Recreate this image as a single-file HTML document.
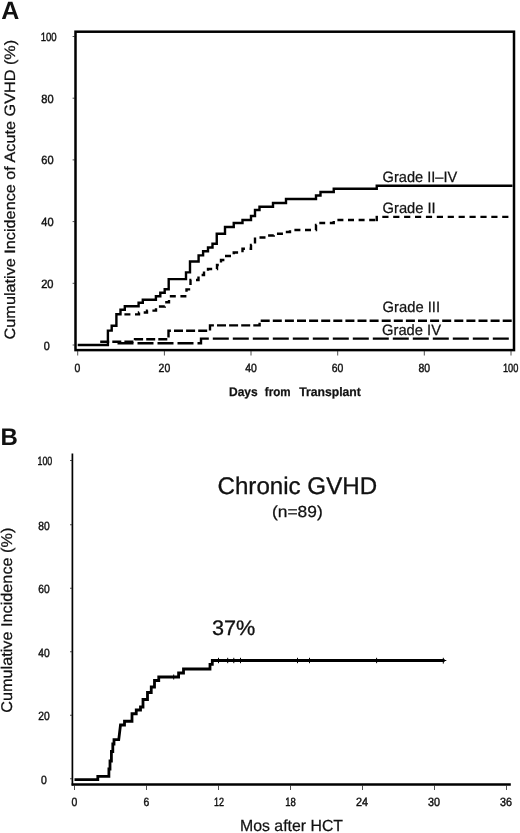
<!DOCTYPE html>
<html><head><meta charset="utf-8"><title>GVHD cumulative incidence</title>
<style>
html,body{margin:0;padding:0;background:#fff;}
svg{display:block;filter:grayscale(1);}
text{font-family:"Liberation Sans",sans-serif;fill:#111;text-rendering:geometricPrecision;}
</style></head>
<body>
<svg width="520" height="833" viewBox="0 0 520 833">
<rect x="0" y="0" width="520" height="833" fill="#fff"/>
<g opacity="0.999">

<!-- ================= PANEL A ================= -->
<text x="1.2" y="19.3" font-size="25" font-weight="bold">A</text>
<!-- plot box -->
<rect x="75.5" y="31.7" width="438.5" height="318.4" fill="none" stroke="#000" stroke-width="2.5"/>
<!-- y ticks -->
<g stroke="#222" stroke-width="0.8">
<line x1="72.6" x2="75" y1="345" y2="345"/>
<line x1="72.6" x2="75" y1="283.3" y2="283.3"/>
<line x1="72.6" x2="75" y1="221.6" y2="221.6"/>
<line x1="72.6" x2="75" y1="159.9" y2="159.9"/>
<line x1="72.6" x2="75" y1="98.2" y2="98.2"/>
<line x1="72.6" x2="75" y1="36.5" y2="36.5"/>
<!-- x ticks -->
<line x1="77.7" x2="77.7" y1="351" y2="355.5"/>
<line x1="164.4" x2="164.4" y1="351" y2="355.5"/>
<line x1="251" x2="251" y1="351" y2="355.5"/>
<line x1="337.7" x2="337.7" y1="351" y2="355.5"/>
<line x1="424.3" x2="424.3" y1="351" y2="355.5"/>
<line x1="511" x2="511" y1="351" y2="355.5"/>
</g>
<!-- y tick labels -->
<g font-size="12" text-anchor="middle" stroke="#111" stroke-width="0.45">
<text x="48.7" y="40.8" textLength="16" lengthAdjust="spacingAndGlyphs">100</text>
<text x="47.5" y="102.5" textLength="12.3" lengthAdjust="spacingAndGlyphs">80</text>
<text x="47.5" y="164.3" textLength="12.3" lengthAdjust="spacingAndGlyphs">60</text>
<text x="47.5" y="226" textLength="12.3" lengthAdjust="spacingAndGlyphs">40</text>
<text x="47.3" y="287.7" textLength="12.3" lengthAdjust="spacingAndGlyphs">20</text>
<text x="46.8" y="349.6" textLength="6" lengthAdjust="spacingAndGlyphs">0</text>
<!-- x tick labels -->
<text x="77.5" y="371.5" textLength="5.8" lengthAdjust="spacingAndGlyphs">0</text>
<text x="164.4" y="371.5" textLength="11.6" lengthAdjust="spacingAndGlyphs">20</text>
<text x="251" y="371.5" textLength="11.6" lengthAdjust="spacingAndGlyphs">40</text>
<text x="337.5" y="371.5" textLength="11.6" lengthAdjust="spacingAndGlyphs">60</text>
<text x="424.3" y="371.5" textLength="11.6" lengthAdjust="spacingAndGlyphs">80</text>
<text x="510.6" y="371.5" textLength="15.4" lengthAdjust="spacingAndGlyphs">100</text>
</g>
<!-- axis titles -->
<text transform="translate(15.3,339.4) rotate(-90)" font-size="15" textLength="299.6" stroke="#111" stroke-width="0.25" lengthAdjust="spacingAndGlyphs">Cumulative Incidence of Acute GVHD (%)</text>
<g font-size="12.4" font-weight="bold" stroke="#111" stroke-width="0.25">
<text x="229" y="396.2" textLength="28.7" lengthAdjust="spacingAndGlyphs">Days</text>
<text x="264.8" y="396.2" textLength="25.8" lengthAdjust="spacingAndGlyphs">from</text>
<text x="299.2" y="396.2" textLength="61.6" lengthAdjust="spacingAndGlyphs">Transplant</text>
</g>

<!-- curves A -->
<g fill="none" stroke="#000" stroke-width="2.4" stroke-linejoin="miter">
<!-- Grade IV long dash -->
<path d="M117.5 343.3 H201 V338.6 H512" stroke-dasharray="16 4"/>
<!-- Grade III medium dash -->
<path d="M100.2 341.7 H135 V339.3 H168.5 V330.8 H210 V325.4 H259.6 V320.7 H512" stroke-dasharray="9 3.1"/>
<!-- Grade II dotted -->
<path d="M124.4 314.4 H139 V312.5 H147 V310.6 H156 V306.5 H164.8 V302.2 H169 V296.2 H186.5 V289.4 H190.5 V280 H198.5 V275 H204 V271 H208 V269 H217 V265 H221 V260 H225 V256 H233.75 V252.5 H242.5 V248.75 H251 V245 H255 V237.5 H268 V235.5 H273.75 V233.75 H285 V232 H290 V230 H316 V225 H320.5 V223 H333.75 V220 H376" stroke-dasharray="6 4.6"/>
<path d="M376.75 221.2 V215.8"/>
<path d="M382.3 216.9 H508.6" stroke-dasharray="6.2 4.7"/>
<!-- Grade II-IV solid -->
<path d="M77.7 345 H107.9 V330.6 H111.7 V325.8 H116.4 V314.2 H120.5 V309.8 H124.8 V306.2 H138.6 V302.8 H142.8 V299.8 H155.9 V296.2 H160.3 V292.7 H164.7 V289.2 H168.7 V279.1 H186 V272.4 H190 V261.5 H198.6 V255.4 H203.1 V251.3 H208 V247.5 H212.5 V243.75 H216.75 V233.75 H225 V227 H233.75 V223 H242.5 V220 H251 V216 H255 V210 H259.5 V206.75 H273 V203 H286 V199 H316 V195.5 H320.5 V192 H333.75 V188.75 H376.75 V185.75 H512.5"/>
</g>
<!-- curve labels -->
<g font-size="15" stroke="#111" stroke-width="0.25">
<text x="382.6" y="182.2" textLength="74.7" lengthAdjust="spacingAndGlyphs">Grade II–IV</text>
<text x="382.6" y="212.8" textLength="53.1" lengthAdjust="spacingAndGlyphs">Grade II</text>
<text x="382.6" y="311.6" textLength="57.4" lengthAdjust="spacingAndGlyphs">Grade III</text>
<text x="382" y="334.6" textLength="59" lengthAdjust="spacingAndGlyphs">Grade IV</text>
</g>

<!-- ================= PANEL B ================= -->
<text x="0.5" y="445.2" font-size="24" font-weight="bold">B</text>
<!-- axes -->
<line x1="72.4" x2="72.4" y1="453.5" y2="785.6" stroke="#000" stroke-width="1.7"/>
<line x1="71.6" x2="510.8" y1="784.5" y2="784.5" stroke="#000" stroke-width="2.4"/>
<g stroke="#222" stroke-width="0.8">
<line x1="70" x2="72.2" y1="778.75" y2="778.75"/>
<line x1="70" x2="72.2" y1="715.25" y2="715.25"/>
<line x1="70" x2="72.2" y1="651.75" y2="651.75"/>
<line x1="70" x2="72.2" y1="588.25" y2="588.25"/>
<line x1="70" x2="72.2" y1="524.75" y2="524.75"/>
<line x1="70" x2="72.2" y1="460.5" y2="460.5"/>
<line x1="74.5" x2="74.5" y1="785.4" y2="790"/>
<line x1="146.5" x2="146.5" y1="785.4" y2="790"/>
<line x1="218.5" x2="218.5" y1="785.4" y2="790"/>
<line x1="290.5" x2="290.5" y1="785.4" y2="790"/>
<line x1="362.5" x2="362.5" y1="785.4" y2="790"/>
<line x1="434.5" x2="434.5" y1="785.4" y2="790"/>
<line x1="506.5" x2="506.5" y1="785.4" y2="790"/>
</g>
<g font-size="12" text-anchor="middle" stroke="#111" stroke-width="0.45">
<text x="44.9" y="465" textLength="14.8" lengthAdjust="spacingAndGlyphs">100</text>
<text x="44" y="529.5" textLength="11.4" lengthAdjust="spacingAndGlyphs">80</text>
<text x="44" y="593" textLength="11.4" lengthAdjust="spacingAndGlyphs">60</text>
<text x="44" y="656.5" textLength="11.4" lengthAdjust="spacingAndGlyphs">40</text>
<text x="44" y="720" textLength="11.4" lengthAdjust="spacingAndGlyphs">20</text>
<text x="44" y="783.5" textLength="5.8" lengthAdjust="spacingAndGlyphs">0</text>
<text x="74.5" y="805.6" textLength="5.8" lengthAdjust="spacingAndGlyphs">0</text>
<text x="146.5" y="805.6" textLength="5.8" lengthAdjust="spacingAndGlyphs">6</text>
<text x="219" y="805.6" textLength="10" lengthAdjust="spacingAndGlyphs">12</text>
<text x="290.5" y="805.6" textLength="10.6" lengthAdjust="spacingAndGlyphs">18</text>
<text x="362" y="805.6" textLength="12" lengthAdjust="spacingAndGlyphs">24</text>
<text x="434" y="805.6" textLength="12" lengthAdjust="spacingAndGlyphs">30</text>
<text x="506" y="805.6" textLength="12" lengthAdjust="spacingAndGlyphs">36</text>
</g>
<text transform="translate(12.3,712.7) rotate(-90)" font-size="15.5" textLength="185" stroke="#111" stroke-width="0.25" lengthAdjust="spacingAndGlyphs">Cumulative Incidence (%)</text>
<text x="240" y="830.7" font-size="16" textLength="103" stroke="#111" stroke-width="0.25" lengthAdjust="spacingAndGlyphs">Mos after HCT</text>
<text x="217.5" y="494.2" font-size="24" textLength="159.6" stroke="#111" stroke-width="0.3" lengthAdjust="spacingAndGlyphs">Chronic GVHD</text>
<text x="272" y="517" font-size="16" textLength="50.7" stroke="#111" stroke-width="0.25" lengthAdjust="spacingAndGlyphs">(n=89)</text>
<text x="211.9" y="635" font-size="21" textLength="43.4" stroke="#111" stroke-width="0.3" lengthAdjust="spacingAndGlyphs">37%</text>

<!-- curve B -->
<path fill="none" stroke="#000" stroke-width="2.8" stroke-linejoin="miter" d="M74.5 779.6 H97.8 V776.3 H108.9 V769 H110 V761 H111.4 V751.5 H112.8 V744 H114 V739.6 H118.75 L120.5 725 H124.5 V721.25 H132 V713.75 H136.25 V710 H140.5 V707 H143 V699.5 H147.5 V692.5 H151.25 V687 H154.5 V680.5 H158.75 V677 H178.6 V673 H183.5 V669 H210 V664.3 H212.3 V660.5 H444.6"/>
<g stroke="#000" stroke-width="1">
<line x1="218.5" x2="218.5" y1="657.8" y2="663.2"/>
<line x1="227.7" x2="227.7" y1="657.8" y2="663.2"/>
<line x1="233.8" x2="233.8" y1="657.8" y2="663.2"/>
<line x1="240.5" x2="240.5" y1="657.8" y2="663.2"/>
<line x1="297.5" x2="297.5" y1="657.8" y2="663.2"/>
<line x1="309.5" x2="309.5" y1="657.8" y2="663.2"/>
<line x1="376.6" x2="376.6" y1="657.8" y2="663.2"/>
<line x1="443.3" x2="443.3" y1="657.8" y2="663.6"/>
<line x1="440" x2="446.3" y1="660.5" y2="660.5"/>
<line x1="173.7" x2="173.7" y1="674.5" y2="679.5"/>
</g>
</g>
</svg>
</body></html>
